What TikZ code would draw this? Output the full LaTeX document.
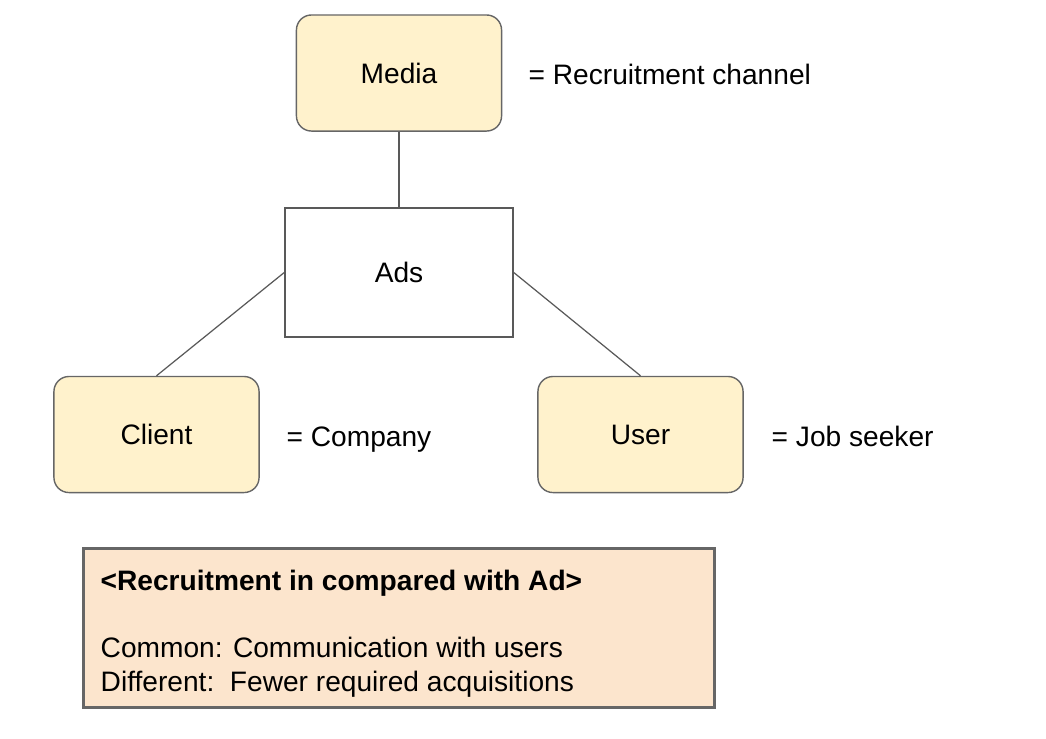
\documentclass[tikz,border=0pt]{standalone}
\usepackage{fontspec}
\setmainfont{Liberation Sans}
\usepackage{tikz}
\usetikzlibrary{positioning}
\definecolor{boxfill}{HTML}{FFF2CC}
\definecolor{notefill}{HTML}{FCE5CD}
\definecolor{edge}{HTML}{595959}
\definecolor{rim}{HTML}{666666}
\begin{document}
\begin{tikzpicture}[x=0.01cm,y=-0.01cm,font=\fontsize{8}{9.6}\selectfont,
  party/.style={draw=rim,fill=boxfill,rounded corners=0.15cm,minimum width=2.05cm,minimum height=1.16cm,line width=0.4pt},
  hub/.style={draw=edge,fill=white,minimum width=2.28cm,minimum height=1.29cm,line width=0.4pt},
  link/.style={draw=edge,line width=0.35pt},
  gloss/.style={anchor=base west,inner sep=0pt}]
  \useasboundingbox (0,0) rectangle (1046,738);
  \node[party] (media) at (399,73) {Media};
  \node[hub] (ads) at (399,272.5) {Ads};
  \node[party] (client) at (156.5,434.5) {Client};
  \node[party] (user) at (640.5,434.5) {User};
  \draw[link] (media.south) -- (ads.north);
  \draw[link] (ads.west) -- (client.north);
  \draw[link] (ads.east) -- (user.north);
  \foreach \n/\x/\y/\t in {media/528/84/Recruitment channel,client/286/446/Company,user/771/446/Job seeker} {\node[gloss] (\n gloss) at (\x,\y) {= \t};}
  \node[draw=rim,fill=notefill,line width=0.85pt,minimum width=6.30cm,minimum height=1.58cm] (note) at (399,628) {};
  \node[gloss] (notetitle) at (100,590) {\textbf{<Recruitment in compared with Ad>}};
  \node[gloss] (notecommon) at (100,657) {Common: Communication with users};
  \node[gloss] (notediff) at (100,691) {Different:\ \ Fewer required acquisitions};
\end{tikzpicture}
\end{document}
